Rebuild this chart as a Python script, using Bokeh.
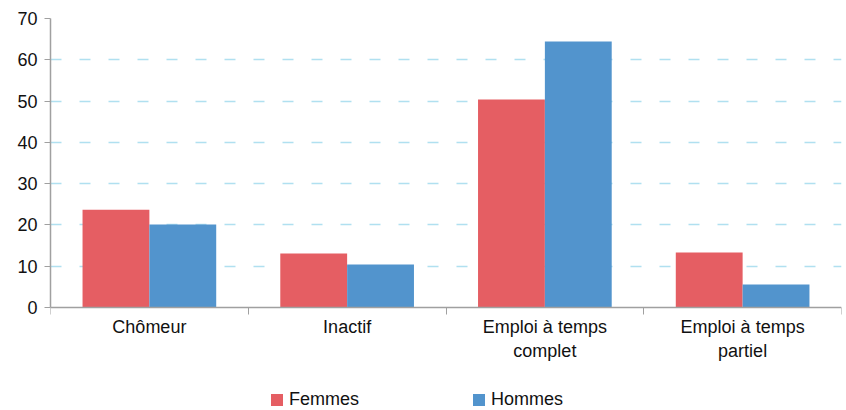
from bokeh.plotting import figure
from bokeh.models import FixedTicker, Range1d, Legend, LegendItem, ColumnDataSource
from bokeh.core.properties import value
from bokeh.embed import file_html
from bokeh.resources import INLINE

categories = ["Chômeur", "Inactif", "Emploi à temps\ncomplet", "Emploi à temps\npartiel"]
femmes = [23.7, 13.1, 50.4, 13.3]
hommes = [20.1, 10.4, 64.4, 5.6]
y_ticks = [0, 10, 20, 30, 40, 50, 60, 70]

RED = "#E55E63"
BLUE = "#5294CD"
FONT = "Liberation Sans"

n = len(categories)
bar_w = 0.338
centers = [i + 0.5 for i in range(n)]
src_f = ColumnDataSource(dict(x=[c - bar_w / 2 for c in centers], top=femmes))
src_h = ColumnDataSource(dict(x=[c + bar_w / 2 for c in centers], top=hommes))
src_lab = ColumnDataSource(dict(x=centers, y=[0] * n, text=categories))

# frame spans 18..410 px; value 0 sits 103 px above the bottom, 70 is 289 px above 0
y_start = -70 * 103 / 289

p = figure(width=846, height=410, output_backend="svg", toolbar_location=None,
           x_range=Range1d(0, n), y_range=Range1d(y_start, 70),
           x_axis_location="above",
           min_border_left=50, min_border_right=5, min_border_top=18, min_border_bottom=0)
p.outline_line_color = None
p.background_fill_color = "white"

rf = p.vbar(x="x", top="top", bottom=0, width=bar_w, source=src_f, fill_color=RED, line_color=None)
rh = p.vbar(x="x", top="top", bottom=0, width=bar_w, source=src_h, fill_color=BLUE, line_color=None)

# category labels below the zero line
p.text(x="x", y="y", text="text", source=src_lab, text_align="center", text_baseline="top",
       y_offset=9, text_font=value(FONT), text_font_size="18px", text_color="#111111")

# x axis drawn at y = 0, ticks at category boundaries pointing down
xa = p.xaxis[0]
xa.fixed_location = 0
xa.ticker = FixedTicker(ticks=[], minor_ticks=list(range(n + 1)))
xa.major_label_text_font_size = "0px"
xa.major_label_standoff = 0
xa.major_tick_out = 0
xa.major_tick_in = 0
xa.minor_tick_out = 0
xa.minor_tick_in = 7
xa.minor_tick_line_color = "#A0A0A0"
xa.axis_line_color = "#A0A0A0"
xa.axis_line_width = 1.5

ya = p.yaxis[0]
ya.bounds = (0, 70)
ya.ticker = FixedTicker(ticks=y_ticks, minor_ticks=[])
ya.major_tick_out = 6
ya.major_tick_in = 0
ya.major_tick_line_color = "#A0A0A0"
ya.axis_line_color = "#A0A0A0"
ya.axis_line_width = 1.5
ya.major_label_text_font = FONT
ya.major_label_text_font_size = "18px"
ya.major_label_text_color = "#111111"
ya.major_label_standoff = 7

p.xgrid.grid_line_color = None
p.ygrid.ticker = FixedTicker(ticks=y_ticks[1:])
p.ygrid.grid_line_color = "#B0E0F0"
p.ygrid.grid_line_width = 1.5
p.ygrid.grid_line_dash = "11 18"

legend = Legend(items=[LegendItem(label="Femmes", renderers=[rf]),
                       LegendItem(label="Hommes", renderers=[rh])],
                orientation="horizontal", location=(219, 0),
                glyph_width=15, glyph_height=15, label_standoff=5,
                label_width=170, label_height=15, spacing=12, padding=0, margin=0,
                border_line_color=None, background_fill_alpha=0,
                label_text_font=FONT, label_text_font_size="18px",
                label_text_color="#111111")
p.add_layout(legend, "center")

open("out.html", "w").write(file_html(p, INLINE))
